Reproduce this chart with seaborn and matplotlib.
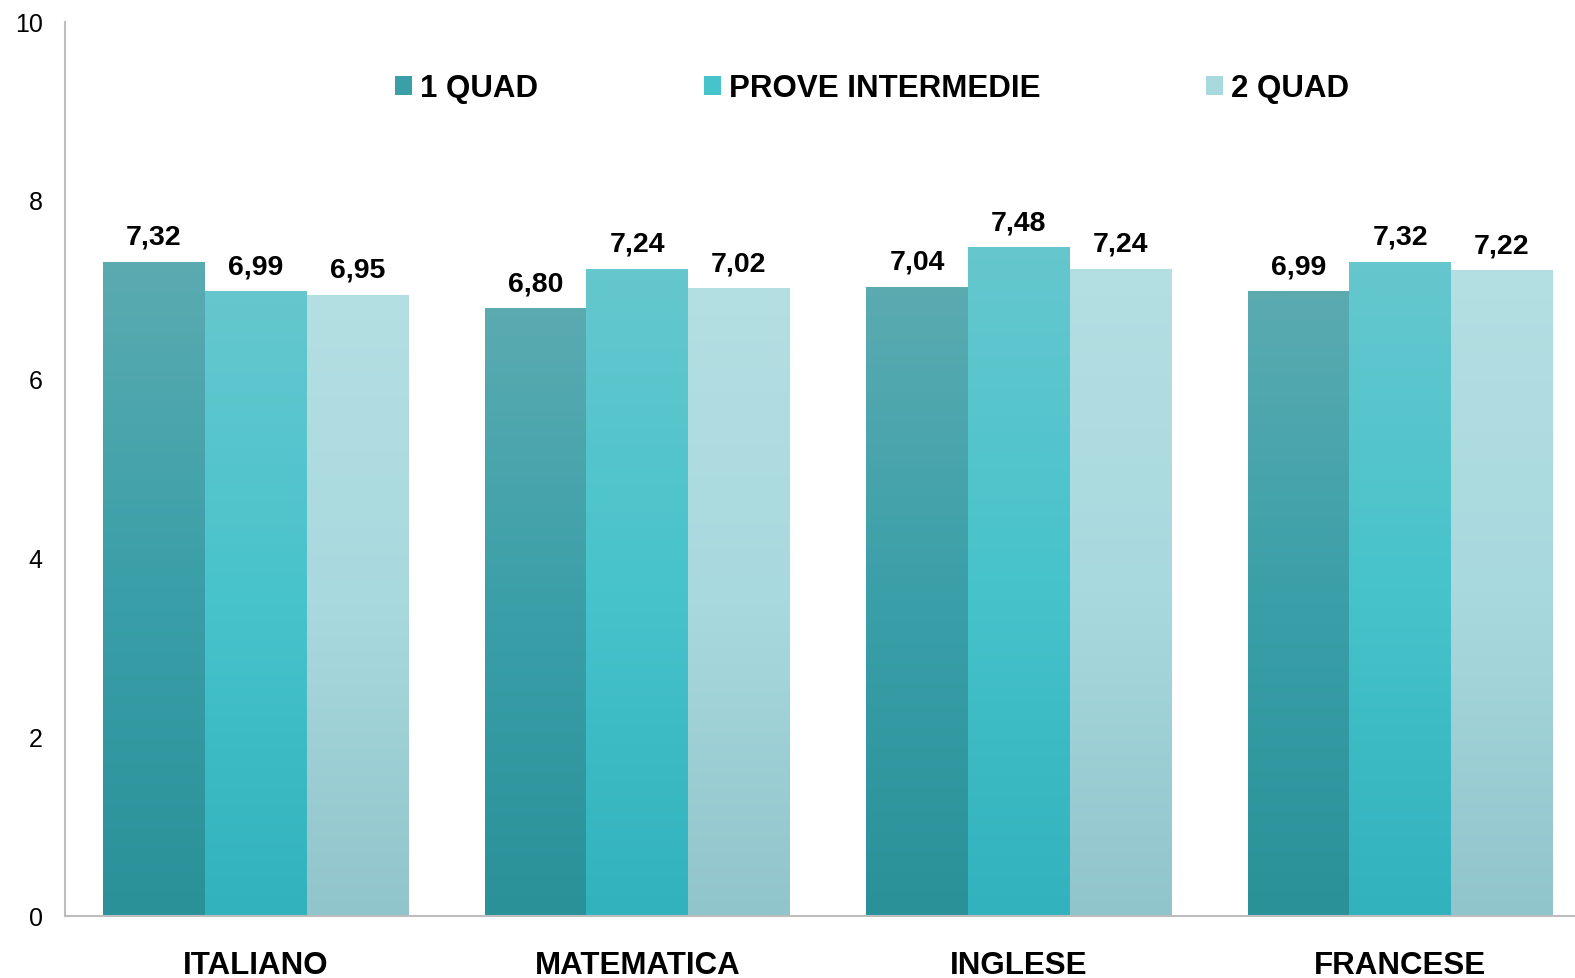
import matplotlib

matplotlib.use("Agg")
import matplotlib.pyplot as plt
import numpy as np
import pandas as pd
import seaborn as sns
from matplotlib.colors import LinearSegmentedColormap
from matplotlib.patches import Patch

subjects = ["ITALIANO", "MATEMATICA", "INGLESE", "FRANCESE"]
series = ["1 QUAD", "PROVE INTERMEDIE", "2 QUAD"]
quad1 = [7.32, 6.80, 7.04, 6.99]
prove = [6.99, 7.24, 7.48, 7.32]
quad2 = [6.95, 7.02, 7.24, 7.22]

# top -> middle -> bottom of each bar
gradients = {
    "1 QUAD": ["#5BABB1", "#3A9FA8", "#2A9199"],
    "PROVE INTERMEDIE": ["#66C7CE", "#47C3CB", "#31B2BD"],
    "2 QUAD": ["#B4DFE3", "#A8D9DE", "#90C5CB"],
}

df = pd.DataFrame({
    "subject": subjects * 3,
    "series": [s for s in series for _ in subjects],
    "value": quad1 + prove + quad2,
})

sns.set_style("white")
plt.rcParams["font.family"] = ["Liberation Sans", "DejaVu Sans"]
plt.rcParams["text.color"] = "black"
plt.rcParams["xtick.color"] = "black"
plt.rcParams["ytick.color"] = "black"

fig = plt.figure(figsize=(15.75, 9.781), dpi=100)
# the axes run past the right edge of the figure, as in the reference
ax = fig.add_axes([65 / 1575, 62 / 978, 1526 / 1575, 894 / 978])

mid = {k: v[1] for k, v in gradients.items()}
sns.barplot(data=df, x="subject", y="value", hue="series", order=subjects,
            hue_order=series, palette=mid, width=0.8, ax=ax, legend=False,
            saturation=1, edgecolor="none")

ramp = np.linspace(1, 0, 256).reshape(-1, 1)
for name, container in zip(series, ax.containers):
    cmap = LinearSegmentedColormap.from_list(name, gradients[name][::-1])
    for bar in container:
        x0, y0 = bar.get_x(), bar.get_y()
        w, h = bar.get_width(), bar.get_height()
        img = ax.imshow(ramp, cmap=cmap, vmin=0, vmax=1, aspect="auto",
                        extent=[x0, x0 + w, y0, y0 + h], zorder=bar.get_zorder() + 0.1)
        img.set_clip_path(bar)
    ax.bar_label(container, labels=[f"{v:.2f}".replace(".", ",") for v in container.datavalues],
                 padding=8, fontsize=20.5, fontweight="bold", color="black")

ax.set_xlim(-0.5, 3.5)
ax.set_ylim(0, 10)
ax.set_yticks([0, 2, 4, 6, 8, 10])
ax.set_xlabel("")
ax.set_ylabel("")
ax.tick_params(axis="y", length=0, pad=16, labelsize=18)
ax.tick_params(axis="x", length=0, pad=25, labelsize=22.5)
for lbl in ax.get_xticklabels():
    lbl.set_fontweight("bold")

for side in ["top", "right"]:
    ax.spines[side].set_visible(False)
for side in ["left", "bottom"]:
    ax.spines[side].set_color("#BDBDBD")
    ax.spines[side].set_linewidth(1.5)

handles = [Patch(facecolor=gradients[s][1], edgecolor="none") for s in series]
ax.legend(handles, series, loc="center", bbox_to_anchor=(0.529, 0.925), ncol=3,
          frameon=False, prop={"size": 22.5, "weight": "bold"},
          handlelength=0.55, handleheight=0.55, handletextpad=0.25, columnspacing=5.3)

fig.savefig("out.png", dpi=100)
